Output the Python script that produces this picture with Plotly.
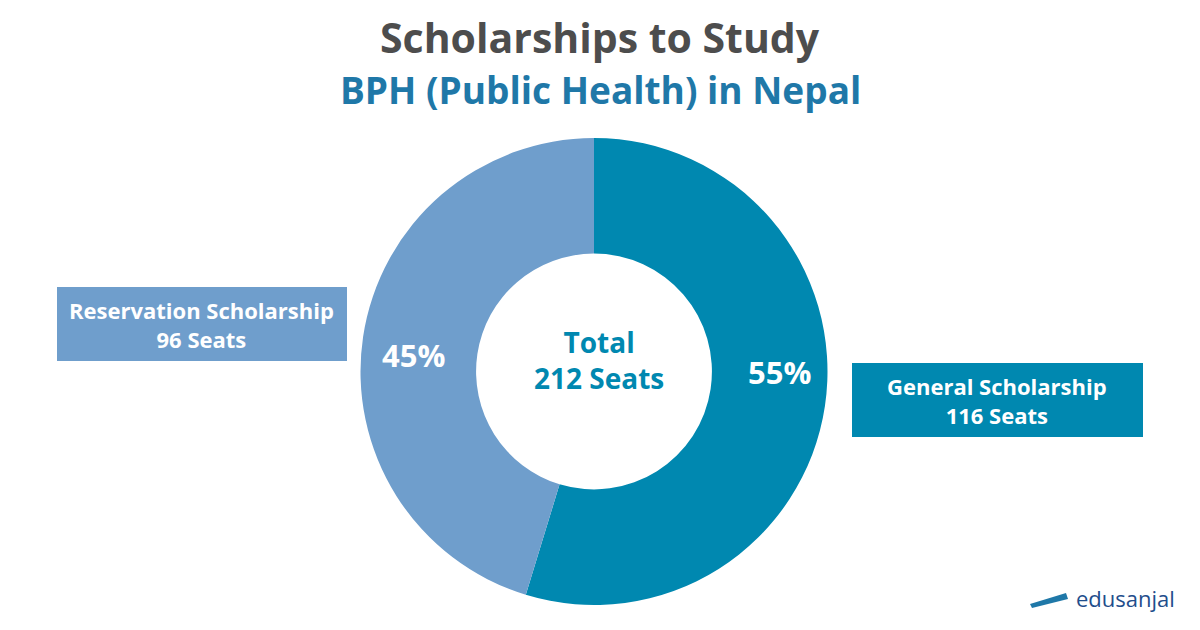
import plotly.graph_objects as go

labels = ["General Scholarship", "Reservation Scholarship"]
seats = [116, 96]
colors = ["#0088B0", "#6F9ECC"]

O = 8  # page offset compensation (px)
W, H = 1200, 630
def px(x): return (x - O) / W
def py(y): return 1 - (y - O) / H

fig = go.Figure(go.Pie(
    labels=labels, values=seats, hole=0.505, sort=False, direction="clockwise",
    rotation=0, marker=dict(colors=colors, line=dict(width=0)),
    textinfo="none", hoverinfo="label+value+percent",
    domain=dict(x=[px(360), px(828)], y=[py(605), py(138)]), showlegend=False,
))

F = "Open Sans"
fig.add_shape(type="rect", xref="paper", yref="paper", x0=px(57), x1=px(347),
              y0=py(361), y1=py(287), fillcolor=colors[1], line_width=0)
fig.add_shape(type="rect", xref="paper", yref="paper", x0=px(852), x1=px(1143),
              y0=py(437), y1=py(363), fillcolor=colors[0], line_width=0)
tot = sum(seats)
ann = [
    dict(x=202, y=324, text=f"<b>{labels[1]}<br>{seats[1]} Seats</b>", size=22, color="white"),
    dict(x=997, y=400, text=f"<b>{labels[0]}<br>{seats[0]} Seats</b>", size=22, color="white"),
    dict(x=599, y=360, text=f"<b>Total<br>{tot} Seats</b>", size=28, color="#0088B0"),
    dict(x=413, y=355, text=f"<b>{round(seats[1]/tot*100)}%</b>", size=31, color="white"),
    dict(x=779, y=372, text=f"<b>{round(seats[0]/tot*100)}%</b>", size=31, color="white"),
    dict(x=600, y=37, text="<b>Scholarships to Study</b>", size=41, color="#4D4D4D"),
    dict(x=600, y=90, text="<b>BPH (Public Health) in Nepal</b>", size=37, color="#1F78A8"),
    dict(x=1125, y=598, text="edusanjal", size=22, color="#1F4E8C"),
]
for a in ann:
    fig.add_annotation(xref="paper", yref="paper", x=px(a["x"]), y=py(a["y"]), text=a["text"],
                       showarrow=False, align="center", xanchor="center", yanchor="middle",
                       font=dict(family=F, size=a["size"], color=a["color"]))
fig.add_shape(type="path", xref="paper", yref="paper",
              path=f"M {px(1030)},{py(604)} L {px(1066)},{py(593)} L {px(1068)},{py(599)} L {px(1032)},{py(608)} Z",
              fillcolor="#1F78A8", line_width=0)

fig.update_layout(width=W, height=H, margin=dict(l=0, r=0, t=0, b=0),
                  paper_bgcolor="white", plot_bgcolor="white")
fig.write_html("out.html")
